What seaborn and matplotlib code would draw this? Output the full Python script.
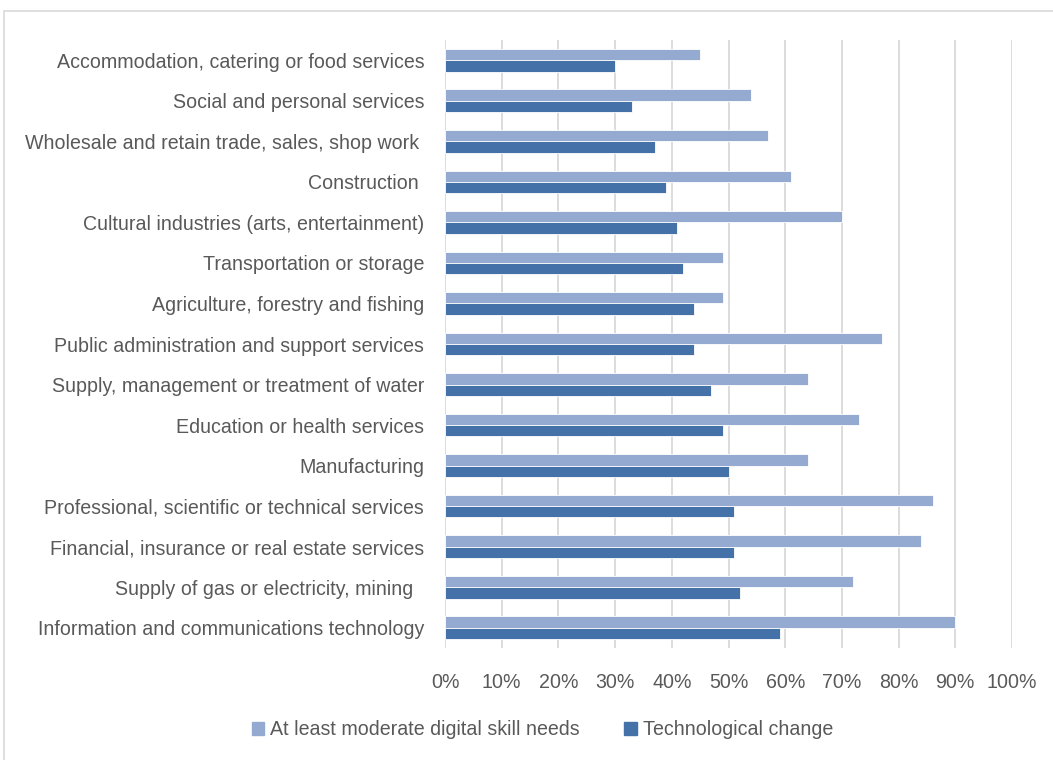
import pandas as pd
import matplotlib.pyplot as plt
import matplotlib.patches as mpatches
import seaborn as sns
from matplotlib.ticker import PercentFormatter

# Datos (porcentajes)
sectores = [
    "Accommodation, catering or food services",
    "Social and personal services",
    "Wholesale and retain trade, sales, shop work ",
    "Construction ",
    "Cultural industries (arts, entertainment)",
    "Transportation or storage",
    "Agriculture, forestry and fishing",
    "Public administration and support services",
    "Supply, management or treatment of water",
    "Education or health services",
    "Manufacturing",
    "Professional, scientific or technical services",
    "Financial, insurance or real estate services",
    "Supply of gas or electricity, mining  ",
    "Information and communications technology",
]
habilidades_digitales = [45, 54, 57, 61, 70, 49, 49, 77, 64, 73, 64, 86, 84, 72, 90]
cambio_tecnologico = [30, 33, 37, 39, 41, 42, 44, 44, 47, 49, 50, 51, 51, 52, 59]

serie_1 = "At least moderate digital skill needs"
serie_2 = "Technological change"

df = pd.DataFrame({
    "sector": sectores * 2,
    "valor": [v / 100 for v in habilidades_digitales + cambio_tecnologico],
    "serie": [serie_1] * len(sectores) + [serie_2] * len(sectores),
})

sns.set_style("white")
plt.rcParams['font.family'] = ['Liberation Sans', 'DejaVu Sans']

color_claro = "#95AAD0"
color_oscuro = "#4472A8"
gris_texto = "#595959"
tam_fuente = 14.1

fig = plt.figure(figsize=(10.53, 7.6), dpi=100)
ax = fig.add_axes([445 / 1053, 1 - 648 / 760, (1012 - 445) / 1053, (648 - 40) / 760])

sns.barplot(data=df, y="sector", x="valor", hue="serie", orient="h",
            palette=[color_claro, color_oscuro], saturation=1, width=0.56,
            edgecolor="white", linewidth=0.6, ax=ax, legend=False)

ax.set_xlim(0, 1)
ax.set_ylim(len(sectores) - 0.5, -0.5)
ax.set_xticks([i / 10 for i in range(11)])
ax.xaxis.set_major_formatter(PercentFormatter(1.0, decimals=0))
ax.grid(axis='x', color='#D9D9D9', linewidth=1.3)
ax.grid(axis='y', visible=False)
ax.set_axisbelow(True)
for lado in ax.spines.values():
    lado.set_visible(False)
ax.tick_params(axis='both', length=0, labelsize=tam_fuente, colors=gris_texto)
ax.tick_params(axis='x', pad=18)
ax.tick_params(axis='y', pad=15)
ax.set_xlabel("")
ax.set_ylabel("")

# Leyenda abajo
manijas = [mpatches.Patch(color=color_claro, label=serie_1),
           mpatches.Patch(color=color_oscuro, label=serie_2)]
fig.legend(handles=manijas, loc='center', bbox_to_anchor=(0.515, 0.04), ncol=2,
           frameon=False, fontsize=tam_fuente, labelcolor=gris_texto,
           handlelength=0.65, handleheight=0.65, handletextpad=0.3, columnspacing=2.25)

# Borde del área del gráfico
fig.patches.append(mpatches.Rectangle((4 / 1053, -0.01), 1.0, 1 - 11 / 760 + 0.01,
                                      transform=fig.transFigure, fill=False,
                                      edgecolor='#D9D9D9', linewidth=1.2))

fig.savefig("out.png", dpi=100)
